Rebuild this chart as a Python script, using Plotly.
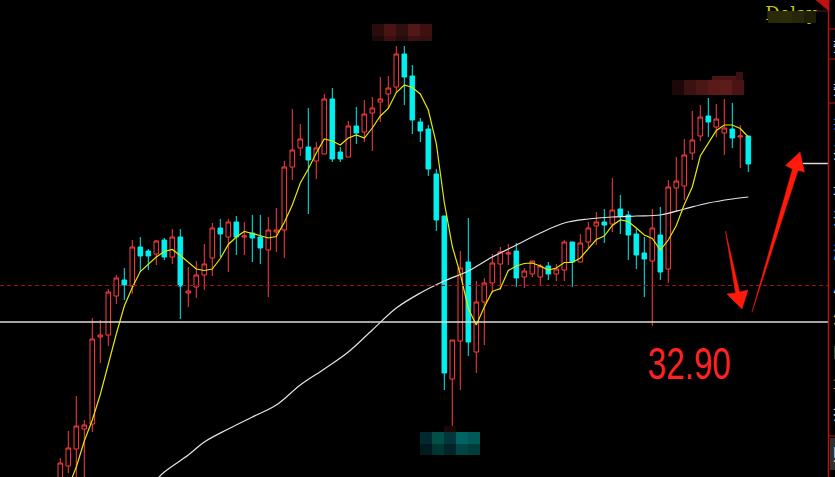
import plotly.graph_objects as go

W, H = 835, 477
X_PX0, X_STEP = 60.3, 8.0          # pixel x of first candle, candle spacing (px)
P_TOP, P_PER_PX = 39.34, 0.02      # price at top edge, price per pixel

# ---------------- data ----------------
opens = [29.54, 30.02, 30.36, 30.76, 30.86, 32.60, 32.64, 33.42, 33.74, 33.62,
         34.40, 34.32, 34.26, 34.54, 34.20, 34.60, 33.48, 33.60, 33.84, 34.18,
         34.78, 34.60, 34.90, 34.60, 34.68, 34.60, 34.34, 34.70, 34.74, 36.00,
         36.38, 36.40, 36.12, 36.26, 37.36, 36.30, 36.20, 36.82, 36.70, 37.08,
         37.30, 37.46, 37.60, 38.26, 37.82, 36.90, 36.76, 35.86, 35.02, 31.76,
         32.52, 34.10, 32.30, 33.30, 33.68, 34.06, 34.26, 34.32, 33.80, 33.86,
         33.80, 34.02, 33.86, 33.94, 34.50, 34.10, 34.50, 34.82, 34.90, 34.86,
         35.16, 35.04, 34.66, 34.28, 34.12, 34.64, 33.96, 35.58, 35.62, 36.28,
         36.62, 37.02, 36.80, 36.68, 36.76, 36.60, 36.62]
highs = [30.18, 30.72, 31.42, 30.94, 32.98, 32.94, 33.56, 33.84, 33.98, 34.54,
         34.60, 34.36, 34.54, 34.58, 34.76, 34.76, 34.00, 34.12, 34.46, 34.88,
         34.96, 34.96, 35.02, 34.90, 35.04, 35.04, 35.00, 35.18, 36.12, 37.16,
         36.86, 37.18, 36.50, 37.46, 37.58, 36.40, 36.92, 37.20, 37.34, 37.40,
         37.80, 37.82, 38.42, 38.42, 38.04, 36.98, 36.84, 35.96, 35.02, 32.54,
         34.32, 34.98, 33.72, 33.78, 34.26, 34.40, 34.46, 34.48, 33.98, 34.12,
         34.06, 34.10, 34.06, 34.54, 34.50, 34.66, 34.90, 35.10, 35.16, 35.78,
         35.44, 35.12, 34.76, 34.60, 35.16, 35.20, 35.74, 36.20, 36.56, 37.12,
         37.24, 37.38, 37.26, 37.36, 37.28, 36.84, 36.62]
lows = [29.44, 29.88, 29.74, 29.64, 30.70, 32.08, 32.42, 33.26, 33.34, 33.46,
        33.90, 33.94, 34.04, 34.14, 34.06, 32.96, 33.20, 33.38, 33.54, 33.82,
        34.20, 33.90, 34.24, 34.24, 34.10, 34.06, 33.40, 34.30, 34.18, 35.74,
        36.22, 35.06, 35.76, 36.26, 36.10, 36.10, 36.20, 36.46, 36.50, 36.32,
        36.90, 37.16, 37.48, 37.24, 36.66, 36.50, 35.82, 34.72, 31.54, 30.80,
        31.54, 32.22, 31.88, 32.44, 33.48, 33.54, 34.04, 33.60, 33.58, 33.80,
        33.62, 33.74, 33.72, 33.72, 33.60, 34.10, 34.38, 34.44, 34.48, 34.70,
        34.66, 34.14, 33.96, 33.40, 32.82, 33.74, 33.68, 35.10, 35.34, 36.14,
        36.52, 36.60, 36.60, 36.24, 36.38, 35.98, 35.90]
closes = [30.08, 30.38, 30.82, 30.84, 32.56, 32.64, 33.50, 33.78, 33.64, 34.40,
          34.22, 34.22, 34.52, 34.20, 34.60, 33.62, 33.52, 33.84, 34.06, 34.78,
          34.66, 34.90, 34.60, 34.62, 34.58, 34.38, 34.74, 34.74, 36.00, 36.34,
          36.56, 36.14, 36.38, 37.36, 36.16, 36.16, 36.82, 36.68, 37.06, 37.18,
          37.36, 37.58, 38.26, 37.80, 36.94, 36.72, 35.96, 34.94, 31.88, 32.54,
          33.98, 32.50, 33.30, 33.68, 34.08, 34.30, 34.28, 33.78, 33.92, 34.12,
          34.02, 33.86, 33.96, 34.50, 34.10, 34.48, 34.78, 34.90, 34.84, 35.14,
          35.02, 34.64, 34.24, 34.16, 34.78, 33.90, 35.60, 35.72, 36.24, 36.54,
          37.00, 36.90, 36.96, 36.78, 36.58, 36.62, 36.06]
ma_short = [None, 29.60, 30.00, 30.52, 30.94, 31.45, 32.07, 32.66, 33.22, 33.59,
            33.91, 34.05, 34.20, 34.31, 34.35, 34.23, 34.09, 33.96, 33.93, 33.96,
            34.17, 34.45, 34.60, 34.71, 34.67, 34.62, 34.58, 34.61, 34.89, 35.24,
            35.68, 35.96, 36.28, 36.56, 36.52, 36.44, 36.58, 36.64, 36.58, 36.78,
            37.02, 37.17, 37.49, 37.64, 37.59, 37.46, 37.14, 36.47, 35.29, 34.41,
            33.86, 33.17, 32.84, 33.20, 33.51, 33.57, 33.93, 34.02, 34.07, 34.08,
            34.02, 33.94, 33.98, 34.09, 34.09, 34.18, 34.36, 34.55, 34.62, 34.83,
            34.94, 34.91, 34.78, 34.64, 34.57, 34.34, 34.54, 34.83, 35.25, 35.60,
            36.22, 36.48, 36.73, 36.84, 36.84, 36.77, 36.60]
ma_long_idx = [12, 13, 16, 18, 21, 24, 27, 30, 33, 36, 39, 42, 45, 48, 51, 54,
               57, 60, 63, 66, 69, 72, 75, 78, 81, 84, 86]
ma_long = [29.74, 29.90, 30.24, 30.50, 30.76, 31.00, 31.24, 31.64, 31.96, 32.30,
           32.74, 33.18, 33.48, 33.72, 33.92, 34.20, 34.44, 34.68, 34.88, 34.96,
           35.00, 35.02, 35.04, 35.16, 35.28, 35.36, 35.40]
level_low = 32.90
level_dash = 33.63
level_right = 36.07
low_label = "32.90"

idx = list(range(len(closes)))

RED = "#ff3d3d"
CYAN = "#00f0f0"


def px(x):
    return x / W


def py(y):
    return 1 - y / H


def dx(x):          # pixel -> data x
    return (x - X_PX0) / X_STEP


def dy(y):          # pixel -> data y
    return P_TOP - y * P_PER_PX


fig = go.Figure()
fig.add_trace(go.Candlestick(
    x=idx, open=opens, high=highs, low=lows, close=closes,
    increasing=dict(line=dict(color=RED, width=1), fillcolor="#000000"),
    decreasing=dict(line=dict(color=CYAN, width=1), fillcolor=CYAN),
    whiskerwidth=0, hoverinfo="skip", showlegend=False))
fig.add_trace(go.Scatter(x=ma_long_idx, y=ma_long, mode="lines",
                         line=dict(color="#e4e4e4", width=1.2, shape="spline"),
                         hoverinfo="skip", showlegend=False))
fig.add_trace(go.Scatter(x=idx, y=ma_short, mode="lines",
                         line=dict(color="#e8e800", width=1.2),
                         hoverinfo="skip", showlegend=False))
# "Delay" label drawn in trace layer so the mosaic can cover part of it
fig.add_trace(go.Scatter(x=[dx(791)], y=[dy(15)], mode="text", text=["Delay"],
                         textfont=dict(family="DejaVu Serif", size=18, color="#c8c800"),
                         cliponaxis=False, hoverinfo="skip", showlegend=False))

shapes = []
# horizontal reference lines
shapes.append(dict(type="line", xref="paper", yref="y", x0=0, x1=px(828),
                   y0=level_dash, y1=level_dash,
                   line=dict(color="#a01010", width=1, dash="4px,3px")))
shapes.append(dict(type="line", xref="paper", yref="y", x0=0, x1=px(828),
                   y0=level_low, y1=level_low, line=dict(color="#dcdcdc", width=1.5)))
shapes.append(dict(type="line", xref="paper", yref="y", x0=px(803), x1=px(828),
                   y0=level_right, y1=level_right, line=dict(color="#dcdcdc", width=1.5)))


def rect(x0, y0, x1, y1, color):
    shapes.append(dict(type="rect", xref="paper", yref="paper", layer="above",
                       x0=px(x0), x1=px(x1), y0=py(y1), y1=py(y0),
                       fillcolor=color, line=dict(width=0)))


# mosaic at the top high label
top_cols = ["#2a0c0c", "#4a1414", "#2e1010", "#521818", "#401010"]
top_cols2 = ["#1e0808", "#3a1010", "#280c0c", "#3a1010", "#361010"]
for k, (c1, c2) in enumerate(zip(top_cols, top_cols2)):
    rect(372 + 12 * k, 24, 384 + 12 * k, 36, c1)
    rect(372 + 12 * k, 36, 384 + 12 * k, 41, c2)
# mosaic at the right high label
r_cols = ["#1c0808", "#3a1212", "#4a1616", "#5a1a1a", "#5c1c1c", "#4a1414"]
for k, c in enumerate(r_cols):
    rect(672 + 12 * k, 80, 684 + 12 * k, 95, c)
rect(712, 76, 736, 80, "#4a1414")
rect(736, 72, 743, 80, "#3a1010")
# mosaic at the bottom low label
b_cols = ["#002a30", "#005048", "#00363c", "#006464", "#005a58"]
b_cols2 = ["#001a1e", "#003632", "#002428", "#004444", "#003c3a"]
for k, (c1, c2) in enumerate(zip(b_cols, b_cols2)):
    rect(420 + 12 * k, 432, 432 + 12 * k, 444, c1)
    rect(420 + 12 * k, 444, 432 + 12 * k, 455, c2)
rect(444, 426, 456, 432, "#1a0808")
# mosaic over "Delay"
d_cols = ["#2a2a08", "#2c2c0a", "#26260a", "#1e1e08"]
for k, c in enumerate(d_cols):
    rect(768 + 12 * k, 11, 780 + 12 * k, 23, c)


def path(points, color):
    d = "M " + " L ".join(f"{px(a):.5f},{py(b):.5f}" for a, b in points) + " Z"
    shapes.append(dict(type="path", xref="paper", yref="paper", layer="above",
                       path=d, fillcolor=color, line=dict(color=color, width=0.5)))


# red arrows
path([(725.5, 231), (739.5, 292), (748, 290), (742, 309), (727, 294), (735.5, 293)], "#ff1a0a")
path([(752, 312), (792.5, 169), (785.5, 165.5), (800, 152), (804.5, 172), (798, 170.5)], "#ff1a0a")

# right panel frame
shapes.append(dict(type="line", xref="paper", yref="paper", x0=px(828.5), x1=px(828.5),
                   y0=0, y1=1, line=dict(color="#c01010", width=1.5)))
for yy in [29, 59, 103, 436]:
    shapes.append(dict(type="line", xref="paper", yref="paper", x0=px(828), x1=1,
                       y0=py(yy), y1=py(yy), line=dict(color="#c01010", width=1)))
shapes.append(dict(type="line", xref="paper", yref="paper", x0=px(816), x1=px(828),
                   y0=py(11), y1=py(11), line=dict(color="#6a1010", width=1)))
path([(816, 0), (829, 0), (829, 11)], "#c01010")
rect(830, 438, 835, 470, "#303030")

annotations = [dict(text=low_label, xref="paper", yref="paper", x=px(689.5), y=py(363),
                    xanchor="center", yanchor="middle", showarrow=False,
                    font=dict(family="Liberation Sans", size=45, color="#ff2222"))]
side_chars = [("委", 44, "#dfe8ff"), ("委", 87, "#dfe8ff"), ("卖", 121, "#5a96ff"),
              ("买", 151, "#dfe8ff"), ("最", 187, "#dfe8ff"), ("开", 217, "#9cc0ff"),
              ("涨", 251, "#5a96ff"), ("总", 285, "#dfe8ff"), ("外", 316, "#e0a050"),
              ("内", 350, "#e0a050"), ("量", 381, "#e0a050"), ("换", 412, "#dfe8ff"),
              ("财", 453, "#e8e8e8")]
for ch, yy, col in side_chars:
    annotations.append(dict(text=ch, xref="paper", yref="paper", x=px(830.5), y=py(yy),
                            xanchor="left", yanchor="middle", showarrow=False,
                            font=dict(family="Noto Sans CJK SC", size=16, color=col)))

fig.update_layout(
    width=W, height=H,
    margin=dict(l=0, r=0, t=0, b=0),
    paper_bgcolor="#000000", plot_bgcolor="#000000",
    boxgap=0.18,
    xaxis=dict(range=[dx(0), dx(W)], visible=False, rangeslider=dict(visible=False),
               fixedrange=True),
    yaxis=dict(range=[dy(H), dy(0)], visible=False, fixedrange=True),
    shapes=shapes, annotations=annotations,
    showlegend=False,
)

page_js = """
document.body.style.margin='0';
document.body.style.background='#000';
var gd=document.getElementById('{plot_id}');
gd.querySelectorAll('text.annotation-text').forEach(function(t){
  if(t.textContent==='32.90'){t.setAttribute('textLength','83');
  t.setAttribute('lengthAdjust','spacingAndGlyphs');}
});
"""
fig.write_html("out.html", post_script=page_js, config={"staticPlot": True})
